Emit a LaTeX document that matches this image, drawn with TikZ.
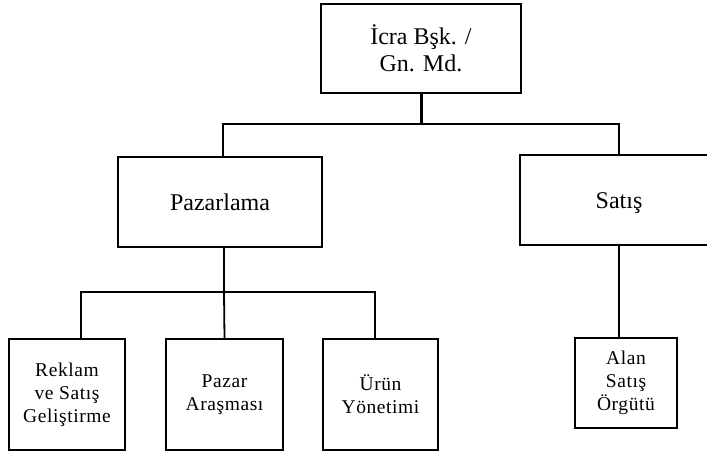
\documentclass[tikz,border=0pt]{standalone}
\usepackage{fontspec}
\setmainfont{Liberation Serif}
\newfontfamily\unitfont[LetterSpace=3]{Liberation Serif}
\begin{document}
\begin{tikzpicture}[x=1pt,y=-1pt,
  box/.style={draw, line width=1.8pt, inner sep=0pt, align=center},
  bigtext/.style={font=\fontsize{24}{27}\selectfont},
  oneline/.style={text height=17pt, text depth=0pt},
  smalltext/.style={font=\unitfont\fontsize{19.5}{23}\selectfont},
  conn/.style={line width=1.8pt},
  trunk/.style={line width=3pt}]
\useasboundingbox (0,0) rectangle (707,452);

% management levels
\node[box, bigtext, minimum width=200pt, minimum height=89pt] (top) at (421,48.5) {İcra Bşk. /\\Gn. Md.};
\node[box, bigtext, oneline, minimum width=204pt, minimum height=90pt] (pazarlama) at (220,202) {Pazarlama};
\node[box, bigtext, oneline, minimum width=198pt, minimum height=90pt] (satis) at (619,200) {Satış};

% units under marketing and sales
\node[box, smalltext, minimum width=116pt, minimum height=111pt] (reklam) at (67,394.5) {Reklam\\ve Satış\\Geliştirme};
\node[box, smalltext, minimum width=117pt, minimum height=111pt] (pazar) at (224.5,394.5) {Pazar\\Araşması};
\node[box, smalltext, minimum width=115pt, minimum height=111pt] (urun) at (380.5,394.5) {Ürün\\Yönetimi};
\node[box, smalltext, minimum width=102pt, minimum height=90pt] (alan) at (626,383) {Alan\\Satış\\Örgütü};

% upper bus
\coordinate (pn) at ([xshift=3pt]pazarlama.north);
\draw[trunk] (top.south) -- (top.south |- 0,124) coordinate (tb);
\draw[conn] (pn) |- (tb) -| (satis.north);

% lower bus
\coordinate (ps) at ([xshift=4pt]pazarlama.south);
\coordinate (rn) at ([xshift=14pt]reklam.north);
\coordinate (un) at ([xshift=-5.5pt]urun.north);
\draw[line width=2.4pt] (ps) -- (ps |- 0,292) coordinate (lb);
\draw[conn] (rn) |- (lb) -| (un);
\draw[conn] (lb) -- (pazar.north);

% sales to field organisation
\draw[conn] (satis.south) -- (satis.south |- alan.north);
\end{tikzpicture}
\end{document}
